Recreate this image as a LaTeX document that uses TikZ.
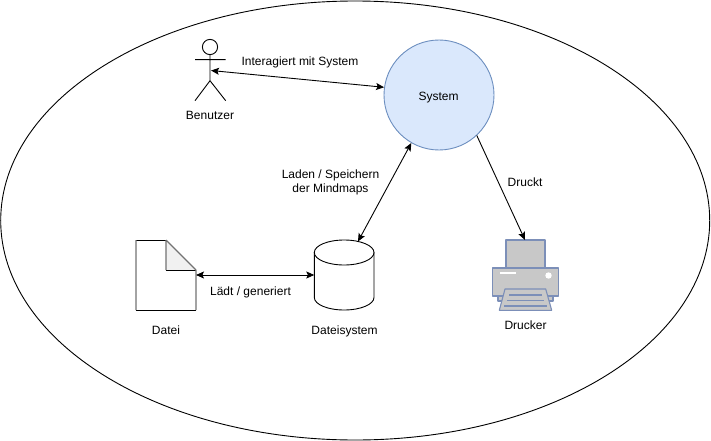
\documentclass[tikz,border=0pt]{standalone}
\usepackage{fontspec}
\setmainfont{Liberation Sans}
\usetikzlibrary{arrows.meta,shapes.geometric}
\definecolor{sysfill}{HTML}{DAE8FC}
\definecolor{sysline}{HTML}{6C8EBF}
\definecolor{foldfill}{HTML}{F1F1F1}
\definecolor{prfill}{HTML}{C8C8C8}
\definecolor{prline}{HTML}{7C8FB8}
\tikzset{
  x=1pt,y=-1pt,
  shapeline/.style={draw=black,line width=0.9pt},
  lbl/.style={font=\fontsize{12}{14}\selectfont,inner sep=0pt,align=center,text=black},
  conn/.style={draw=black,line width=0.9pt,{Stealth[inset=1.6pt,length=8pt,width=7pt]}-{Stealth[inset=1.6pt,length=8pt,width=7pt]}},
  connend/.style={draw=black,line width=0.9pt,-{Stealth[inset=1.6pt,length=8pt,width=7pt]}},
  printer/.style={draw=prline,fill=prfill,line width=1.1pt,line join=round},
}
\begin{document}
\begin{tikzpicture}
\useasboundingbox (0,0) rectangle (711,441);
% outer ellipse
\node[ellipse,draw=black,line width=0.9pt,minimum width=709pt,minimum height=439pt,inner sep=0pt] (world) at (355.2,220.5) {};
% system
\node[circle,draw=sysline,fill=sysfill,line width=0.9pt,minimum size=110pt,inner sep=0pt] (sys) at (439,95) {};
\node[lbl] (syslabel) at (438.5,97.5) {System};
% actor
\draw[shapeline] (210,47) circle (7.6);
\draw[shapeline] (210,54.6) -- (210,80.7) (195,59.6) -- (225.7,59.6) (195,100.7) -- (210,80.7) -- (225.7,100.7);
\coordinate (actor) at (211,70.5);
\node[lbl] (actorlabel) at (210,115) {Benutzer};
% file
\fill[white] (136,240) -- (166,240) -- (196,270) -- (196,310) -- (136,310) -- cycle;
\filldraw[fill=foldfill,draw=none] (166,240) -- (196,270) -- (166,270) -- cycle;
\draw[draw=black,line width=0.9pt] (136,240) -- (166,240) (196,270) -- (166,270) (136,310) -- (196,310);
\draw[draw=black!55,line width=1.1pt] (136,240) -- (136,310) (166,240) -- (166,270) (196,270) -- (196,310) (166,240) -- (196,270);
\coordinate (file) at (196,275);
\node[lbl] (filelabel) at (166,330) {Datei};
% cylinder
\filldraw[shapeline,fill=white] (314.3,252.5) -- (314.3,297.5) .. controls (314.3,304.4) and (327.7,310) .. (344.15,310) .. controls (360.6,310) and (374,304.4) .. (374,297.5) -- (374,252.5) -- cycle;
\filldraw[shapeline,fill=white] (344.15,252.5) ellipse[x radius=29.85,y radius=12.5];
\coordinate (dbwest) at (314.3,275);
\coordinate (dbtop) at (358,241.5);
\node[lbl] (dblabel) at (344.5,331) {Dateisystem};
% printer
\draw[printer] (506,240) rectangle (545,268);
\draw[printer] (498,296) rectangle (553,301);
\draw[printer] (492.7,268) rectangle (558.3,296);
\draw[white,line width=1.5pt] (500,273) -- (516,273);
\fill[white] (548.5,275.5) circle (3.2);
\draw[printer] (505,289) -- (545.7,289) -- (551.7,310.3) -- (499.3,310.3) -- cycle;
\draw[prline,line width=1.1pt] (509,295) -- (542,295) (507,300.5) -- (544,300.5) (504,306) -- (547,306);
\coordinate (prtop) at (525,240);
\node[lbl] (prlabel) at (525.5,325) {Drucker};
% connectors
\draw[conn] (actor) -- (sys.172.6);
\draw[conn] (sys.240.5) -- (dbtop);
\draw[connend] (sys.-47) -- (prtop);
\draw[conn] (file) -- (dbwest);
% labels
\node[lbl] (l1) at (300,62.5) {Interagiert mit System};
\node[lbl] (l2) at (330.5,182) {Laden / Speichern\\der Mindmaps};
\node[lbl] (l3) at (525,182) {Druckt};
\node[lbl] (l4) at (250.5,292) {Lädt / generiert};
\end{tikzpicture}
\end{document}
